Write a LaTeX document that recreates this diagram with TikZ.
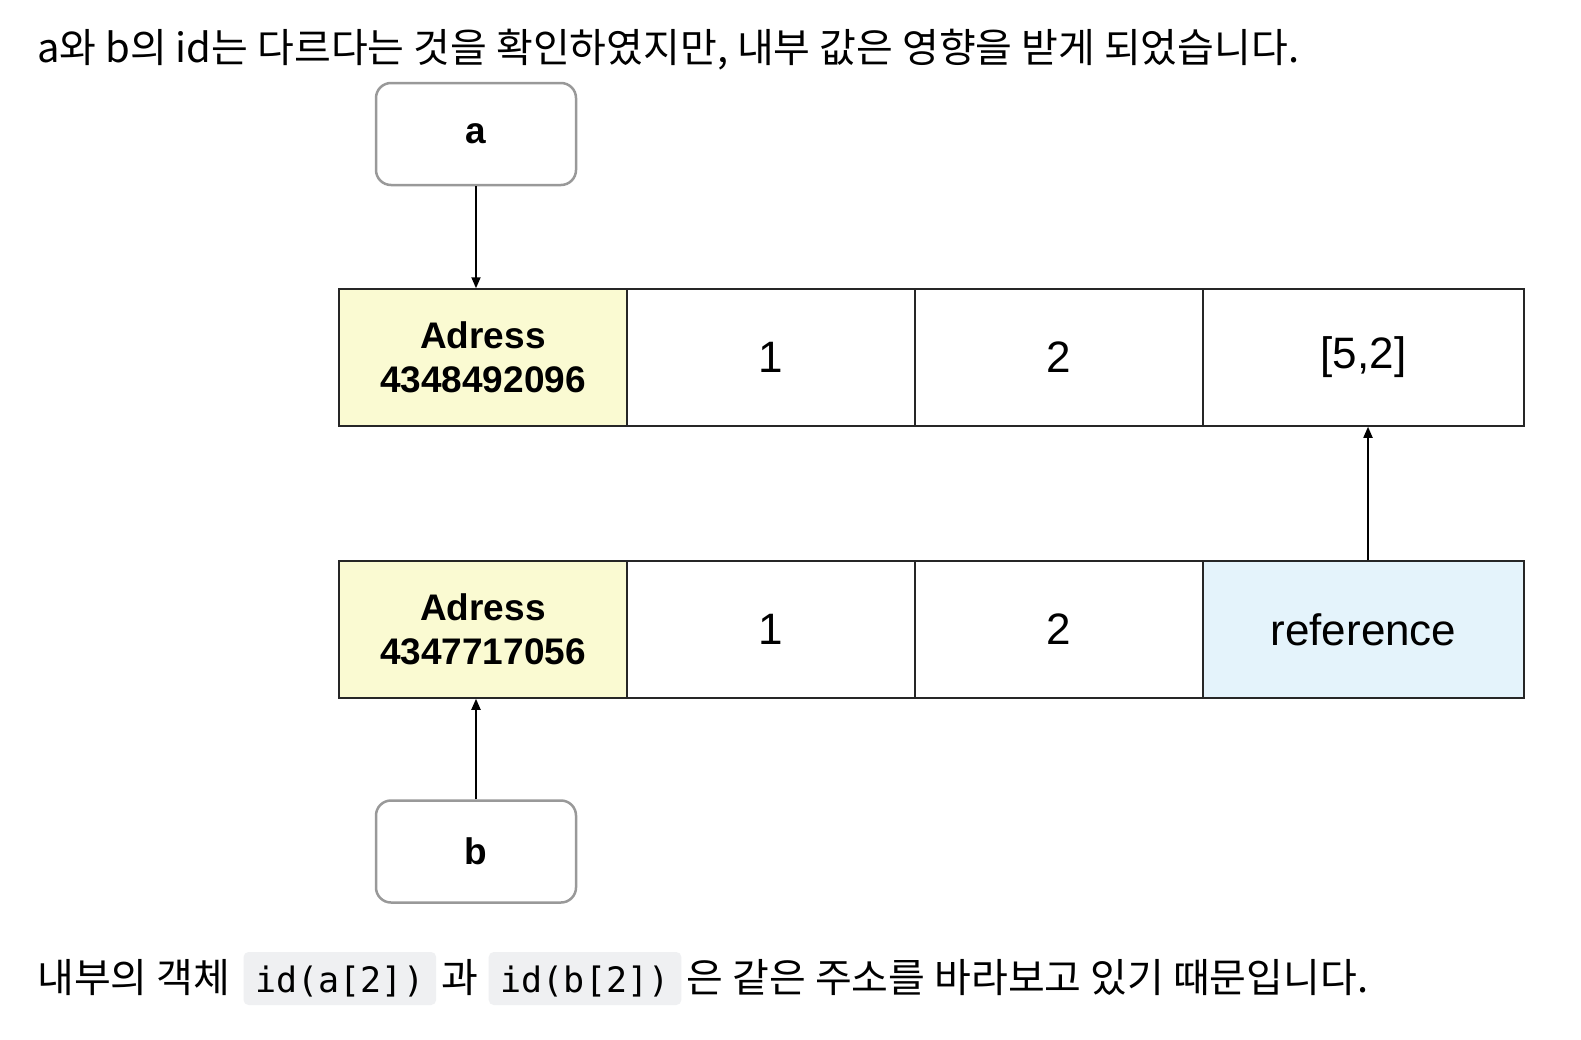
\documentclass[tikz,border=0pt]{standalone}
\usepackage{fontspec}
\setmainfont{Liberation Sans}
\newfontfamily\kofont{Noto Sans CJK KR}
\newfontfamily\codefont{DejaVu Sans Mono}
\usetikzlibrary{positioning}
\usetikzlibrary{arrows.meta}
\definecolor{addryellow}{HTML}{FAFAD2}
\definecolor{refblue}{HTML}{E4F3FB}
\definecolor{codegray}{HTML}{EFF0F2}

\begin{document}
\begin{tikzpicture}[x=1pt,y=-1pt,
 cell/.style={draw=black!85,line width=1.5pt,minimum width=288pt,minimum height=137pt,inner sep=0pt,font=\fontsize{44}{52}\selectfont},
 addr/.style={cell,fill=addryellow,align=center,font=\fontsize{37}{44}\selectfont\bfseries},
 var/.style={draw=black!40,line width=2.5pt,rounded corners=15pt,minimum width=200pt,minimum height=102pt,font=\fontsize{37}{44}\selectfont\bfseries},
 ptr/.style={-{Triangle[length=11pt,width=9pt]},line width=1.8pt},
 ko/.style={inner sep=0pt,font=\fontsize{40}{48}\kofont},
 code/.style={fill=codegray,rounded corners=5pt,inner xsep=12pt,inner ysep=7pt,text height=33pt,text depth=6pt,font=\fontsize{35}{42}\codefont}]
 \useasboundingbox[fill=white] (0,0) rectangle (1581,1039);
 \node[ko,anchor=base west] (title) at (37,62) {a와 b의 id는 다르다는 것을 확인하였지만, 내부 값은 영향을 받게 되었습니다.};
 \node[var] (a) at (476,134) {a};
 \node[var] (b) at (476,851.5) {b};
 \node[addr] (addra) at (483,357.5) {Adress\\4348492096};
 \node[cell] (onea) at (771,357.5) {1};
 \node[cell] (twoa) at (1059,357.5) {2};
 \node[cell,minimum width=321pt] (lista) at (1363.5,357.5) {[5,2]};
 \node[addr] (addrb) at (483,629.5) {Adress\\4347717056};
 \node[cell] (oneb) at (771,629.5) {1};
 \node[cell] (twob) at (1059,629.5) {2};
 \node[cell,minimum width=321pt,fill=refblue] (refb) at (1363.5,629.5) {reference};
 \draw[ptr] (a.south) -- (a.south |- addra.north);
 \draw[ptr] (b.north) -- (b.north |- addrb.south);
 \draw[ptr] ([xshift=4.5pt]refb.north) -- ([xshift=4.5pt]lista.south);
 \node[ko,anchor=base west] (why) at (37,992) {내부의 객체};
 \node[code,base right=13pt of why] (ida) {id(a[2])};
 \node[ko,base right=5pt of ida] (gwa) {과};
 \node[code,base right=10pt of gwa] (idb) {id(b[2])};
 \node[ko,base right=5pt of idb] (rest) {은 같은 주소를 바라보고 있기 때문입니다.};
\end{tikzpicture}
\end{document}
